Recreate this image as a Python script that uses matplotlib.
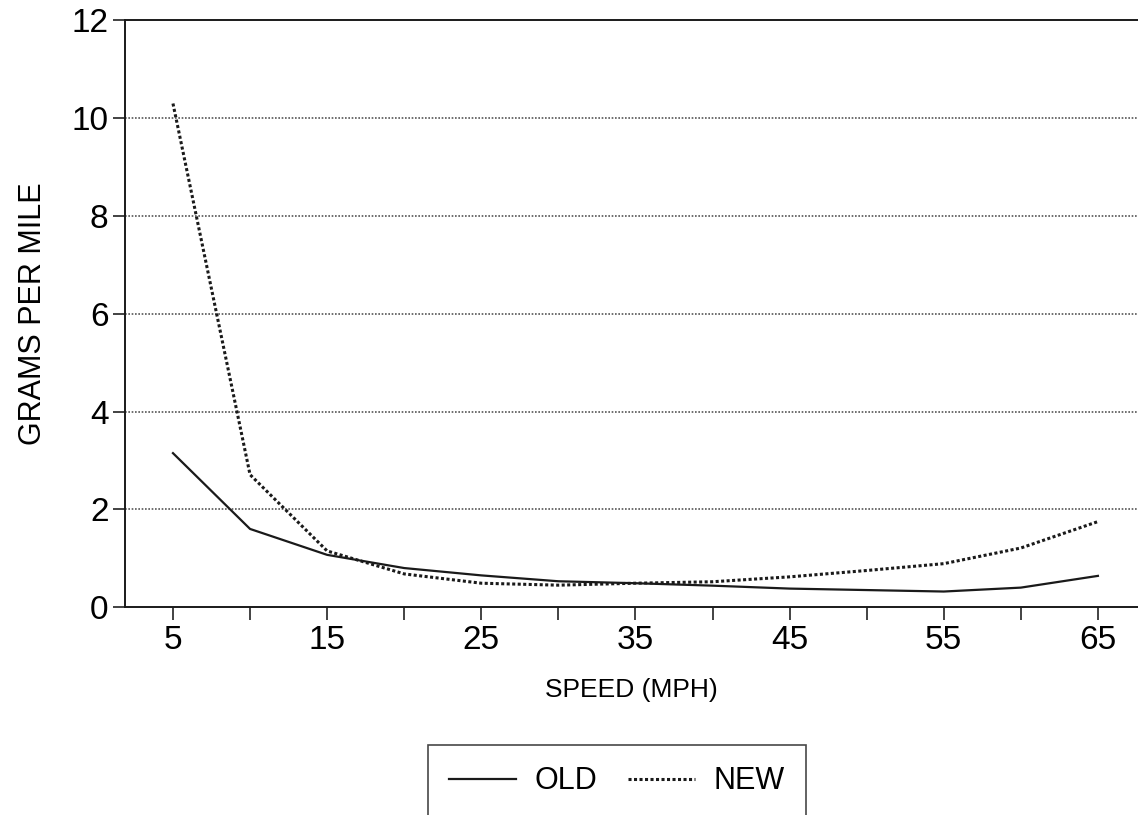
import matplotlib
matplotlib.use('Agg')
import matplotlib.pyplot as plt

# Data
speed = [5, 10, 15, 20, 25, 30, 35, 40, 45, 50, 55, 60, 65]
old = [3.15, 1.6, 1.07, 0.8, 0.65, 0.53, 0.49, 0.44, 0.38, 0.35, 0.32, 0.40, 0.64]
new = [10.3, 2.71, 1.15, 0.68, 0.49, 0.45, 0.49, 0.52, 0.62, 0.75, 0.89, 1.21, 1.75]
y_ticks = [0, 2, 4, 6, 8, 10, 12]
x_ticks = list(range(5, 66, 5))
x_labels = [str(v) if v % 10 == 5 else '' for v in x_ticks]

plt.rcParams['font.family'] = ['Liberation Sans', 'DejaVu Sans']

fig = plt.figure(figsize=(11.38, 8.15), dpi=100)
ax = fig.add_axes([0.11, 0.255, 0.89, 0.72])

ax.plot(speed, old, color='#1a1a1a', lw=1.6, linestyle='-', label='OLD')
ax.plot(speed, new, color='#1a1a1a', lw=2.2, linestyle=(0, (1, 0.8)), label='NEW')

ax.set_xlim(1.9, 67.6)
ax.set_ylim(0, 12)
ax.set_yticks(y_ticks)
ax.set_xticks(x_ticks)
ax.set_xticklabels(x_labels)
ax.tick_params(axis='both', labelsize=24, length=9, width=1.2, color='#222222')
ax.tick_params(axis='x', pad=4)
ax.tick_params(axis='y', pad=3)

for y in y_ticks[1:-1]:
    ax.axhline(y, color='#555555', lw=1.2, linestyle=(0, (1, 1)), zorder=0)

ax.spines['right'].set_visible(False)
for s in ['left', 'bottom', 'top']:
    ax.spines[s].set_linewidth(1.4)
    ax.spines[s].set_color('#1a1a1a')

ax.set_xlabel('SPEED (MPH)', fontsize=19, labelpad=16)
ax.set_ylabel('GRAMS PER MILE', fontsize=22, labelpad=17)

leg = ax.legend(loc='upper center', bbox_to_anchor=(0.542, 0.086),
                bbox_transform=fig.transFigure, ncol=2, fontsize=22,
                frameon=True, fancybox=False, edgecolor='#1a1a1a',
                handlelength=2.2, columnspacing=1.0, borderpad=0.7,
                handletextpad=0.6, borderaxespad=0)
leg.get_frame().set_linewidth(1.2)

fig.savefig('out.png', dpi=100)
